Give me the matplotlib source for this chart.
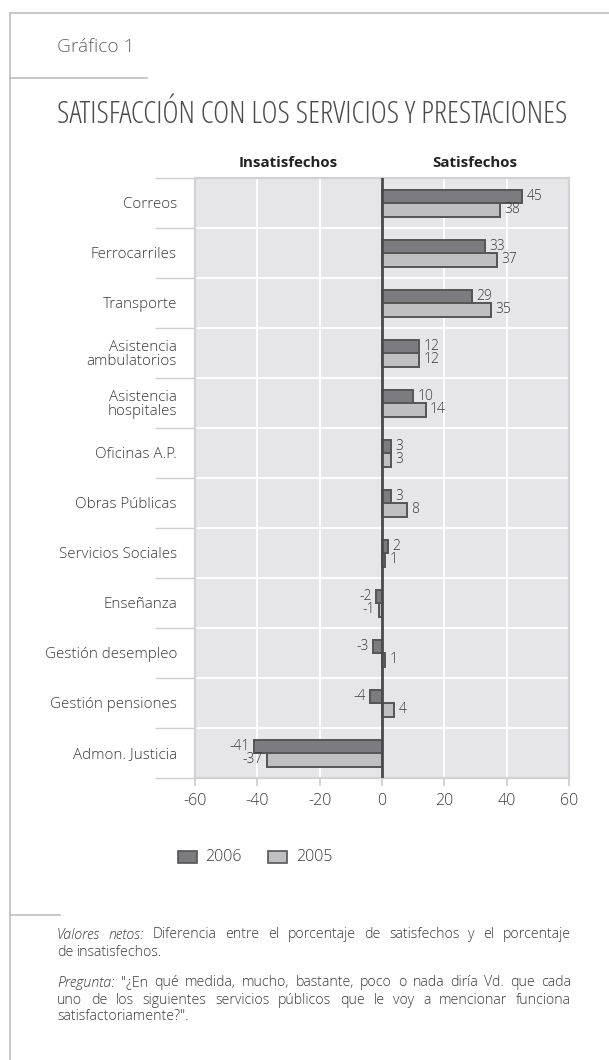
import matplotlib.pyplot as plt
from matplotlib.lines import Line2D
from matplotlib.patches import Rectangle
import numpy as np

categorias = ["Correos", "Ferrocarriles", "Transporte", "Asistencia\nambulatorios",
              "Asistencia\nhospitales", "Oficinas A.P.", "Obras Públicas",
              "Servicios Sociales", "Enseñanza", "Gestión desempleo",
              "Gestión pensiones", "Admon. Justicia"]
v2006 = [45, 33, 29, 12, 10, 3, 3, 2, -2, -3, -4, -41]
v2005 = [38, 37, 35, 12, 14, 3, 8, 1, -1, 1, 4, -37]
xticks = [-60, -40, -20, 0, 20, 40, 60]
anios = ["2006", "2005"]

plt.rcParams['font.family'] = ['Open Sans', 'DejaVu Sans']
W, H = 609, 1060
fig = plt.figure(figsize=(W / 100, H / 100), dpi=100)
r = fig.canvas.get_renderer()
txt = "#3a3a3a"
fino = dict(fontweight="light")

def fx(x): return x / W
def fy(y): return 1 - y / H

def ajustar(t, ancho):
    # escala el tamaño de letra hasta que el texto ocupe 'ancho' píxeles
    w = t.get_window_extent(r).width
    t.set_fontsize(t.get_fontsize() * ancho / w)

# marco de la página
for (x0, y0, x1, y1) in [(10, 13, 609, 13), (10, 13, 10, 1060), (10, 78, 147, 78), (10, 915, 60, 915)]:
    fig.add_artist(Line2D([fx(x0), fx(x1)], [fy(y0), fy(y1)], color="#bdbdbd", lw=1.2))

t = fig.text(fx(57), fy(47), "Gráfico 1", fontsize=12, color="#666666", va="center", **fino)
ajustar(t, 77)
t = fig.text(fx(57), fy(115), "SATISFACCIÓN CON LOS SERVICIOS Y PRESTACIONES", fontsize=16,
             color="#4a4a4a", va="center", fontstretch="condensed", fontweight="normal")
ajustar(t, 513)

ax = fig.add_axes([fx(195), fy(778), fx(569) - fx(195), (778 - 178) / H])
ax.set_facecolor("#e6e6e8")
y = np.arange(len(categorias))
h = 0.27
c06, c05, borde = "#7c7c80", "#bfbfc1", "#555555"
ax.barh(y - h / 2, v2006, height=h, color=c06, edgecolor=borde, lw=1.4, zorder=3)
ax.barh(y + h / 2, v2005, height=h, color=c05, edgecolor=borde, lw=1.4, zorder=3)

for i in range(len(categorias)):
    for val, off in [(v2006[i], -h / 2), (v2005[i], h / 2)]:
        if val >= 0:
            ax.text(val + 1.3, i + off, str(val), ha="left", va="center", fontsize=10, color=txt, zorder=4, **fino)
        else:
            ax.text(val - 1.3, i + off, str(val), ha="right", va="center", fontsize=10, color=txt, zorder=4, **fino)

ax.set_xlim(-60, 60)
ax.set_ylim(len(categorias) - 0.5, -0.5)
ax.set_xticks(xticks)
ax.set_xticklabels([str(t) for t in xticks], fontsize=11.5, color=txt, **fino)
for t in [-40, -20, 20, 40]:
    ax.axvline(t, color="white", lw=1.3, zorder=1)
for b in np.arange(0.5, len(categorias) - 0.5):
    ax.axhline(b, color="white", lw=1.3, zorder=1)
ax.axvline(0, color="#4a4a4a", lw=2, zorder=5)

ax.set_yticks(y)
ax.set_yticklabels(categorias, fontsize=10.9, color=txt, multialignment="right", linespacing=0.95, **fino)
ax.set_yticks(np.arange(-0.5, len(categorias)), minor=True)
ax.tick_params(axis="y", which="major", length=0, pad=13)
ax.tick_params(axis="y", which="minor", length=29, color="#cfcfcf", width=1)
ax.tick_params(axis="x", length=6, color="#cfcfcf", width=1.3, pad=5)
for s in ax.spines.values():
    s.set_color("#d2d2d2")
    s.set_linewidth(1.6)

for xc, lab in [(288, "Insatisfechos"), (475, "Satisfechos")]:
    fig.text(fx(xc), fy(163), lab, fontsize=10.8, fontweight="bold", color="#222222",
             ha="center", va="center")

# leyenda
for (x0, x_txt), anio, c in zip([(178, 205), (268, 296)], anios, [c06, c05]):
    fig.add_artist(Rectangle((fx(x0), fy(863)), fx(19), 12 / H, facecolor=c, edgecolor=borde, lw=1.2))
    fig.text(fx(x_txt), fy(857), anio, fontsize=11.5, color=txt, va="center", **fino)

# notas al pie, justificadas
notas = [
    (935, True, [("Valores netos:", "italic"), ("Diferencia entre el porcentaje de satisfechos y el porcentaje", "normal")]),
    (952, False, [("de insatisfechos.", "normal")]),
    (983, True, [("Pregunta:", "italic"), ("\"¿En qué medida, mucho, bastante, poco o nada diría Vd. que cada", "normal")]),
    (1000, True, [("uno de los siguientes servicios públicos que le voy a mencionar funciona", "normal")]),
    (1017, False, [("satisfactoriamente?\".", "normal")]),
]
x_ini, x_fin = 57, 571
for yy, justo, partes in notas:
    palabras = [(p, st) for s, st in partes for p in s.split(" ")]
    arts = []
    for p, st in palabras:
        a = fig.text(0, fy(yy), p, fontsize=10.2, style=st, color=txt, va="center", **fino)
        arts.append(a)
    anchos = [a.get_window_extent(r).width for a in arts]
    esp = (x_fin - x_ini - sum(anchos)) / (len(arts) - 1) if justo else 3.2
    x = x_ini
    for a, w in zip(arts, anchos):
        a.set_x(fx(x))
        x += w + esp

fig.savefig("out.png", dpi=100)
